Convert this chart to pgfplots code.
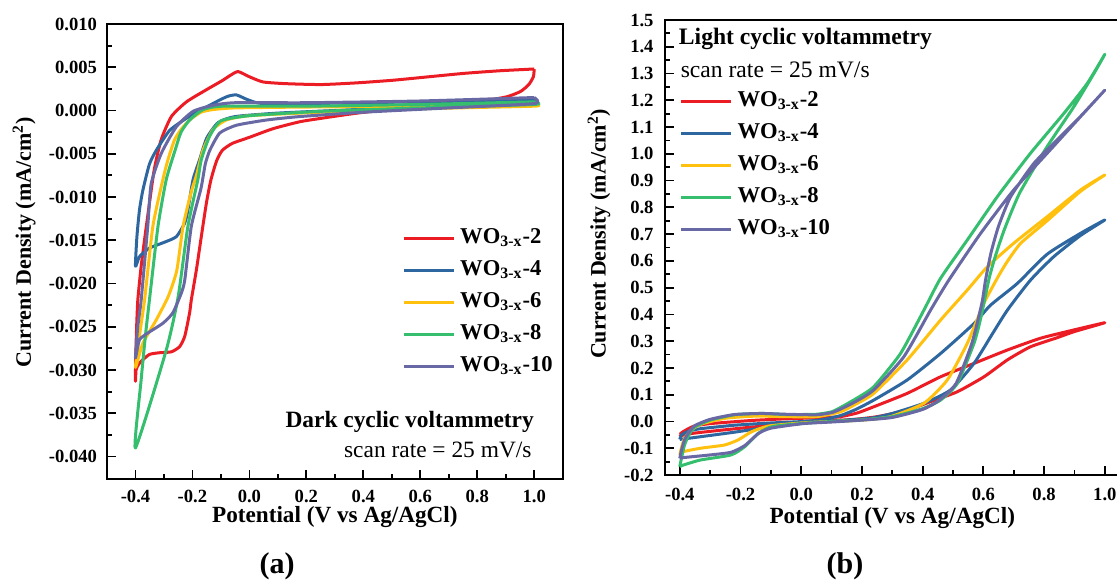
\documentclass[border=0pt]{standalone}
\usepackage{fontspec}
\setmainfont{Liberation Serif}
\usepackage{pgfplots}
\pgfplotsset{compat=1.18}

\definecolor{cred}{RGB}{236,28,36}
\definecolor{cblue}{RGB}{46,103,160}
\definecolor{cyel}{RGB}{255,193,14}
\definecolor{cgreen}{RGB}{52,190,110}
\definecolor{cpurp}{RGB}{104,104,164}

\pgfplotsset{
  cv/.style={
    scale only axis, height=227.5pt,
    axis line style={line width=1pt},
    tick align=inside, xtick pos=bottom, ytick pos=left,
    major tick length=4.5pt, minor tick length=2.5pt,
    tick style={black, line width=0.9pt},
    minor x tick num=1, minor y tick num=1,
    /pgf/number format/assume math mode=true,
    tick label style={font=\bfseries\fontsize{9.3}{10}\selectfont},
    xlabel style={font=\bfseries\fontsize{11.6}{13}\selectfont},
    ylabel style={font=\bfseries\fontsize{11}{13}\selectfont},
    every axis plot/.append style={line width=1.5pt, line join=round, smooth, tension=0.35},
    legend image code/.code={\draw[#1] (0pt,0pt) -- (25pt,0pt);},
    legend cell align=left,
    legend style={draw=none, fill=none, inner sep=0pt, row sep=1pt,
      font=\bfseries\fontsize{11.3}{13}\selectfont,
      nodes={inner xsep=2.5pt, inner ysep=1pt, text height=9pt, text depth=4pt}},
  }
}

\begin{document}
\begin{tikzpicture}
% ---------------- (a) dark ----------------
\begin{axis}[cv,
  at={(53.5pt,50.5pt)}, anchor=south west, width=227.85pt,
  xmin=-0.5, xmax=1.1, ymin=-0.0426, ymax=0.010,
  xtick={-0.4,-0.2,0,0.2,0.4,0.6,0.8,1.0},
  ytick={-0.040,-0.035,-0.030,-0.025,-0.020,-0.015,-0.010,-0.005,0,0.005,0.010},
  scaled y ticks=false,
  xticklabel style={yshift=-2pt, /pgf/number format/.cd, fixed, fixed zerofill, precision=1},
  yticklabel style={xshift=-1.5pt, /pgf/number format/.cd, fixed, fixed zerofill, precision=3},
  xlabel={Potential (V vs Ag/AgCl)},
  ylabel={Current Density (mA/cm\textsuperscript{2})},
  xlabel style={at={(axis description cs:0.5,-0.084)}, anchor=center},
  ylabel style={at={(axis description cs:-0.182,0.52)}, anchor=center},
  legend style={at={(axis description cs:0.647,0.388)}, anchor=west},
]
\addplot[cred] coordinates {(1.0,0.0048) (0.882,0.0046) (0.756,0.0043) (0.630,0.0039) (0.505,0.0035) (0.379,0.0032) (0.253,0.0030) (0.13,0.0031) (0.048,0.0033) (0.0,0.0039) (-0.04,0.0045) (-0.07,0.0040) (-0.093,0.0035) (-0.151,0.0024) (-0.221,0.0010) (-0.274,-0.0007) (-0.31,-0.0034) (-0.335,-0.0070) (-0.362,-0.0134) (-0.38,-0.0180) (-0.392,-0.0220) (-0.397,-0.0260) (-0.400,-0.0300) (-0.400,-0.0313) (-0.398,-0.0300) (-0.390,-0.0294) (-0.380,-0.0290) (-0.351,-0.0282) (-0.315,-0.0280) (-0.274,-0.0279) (-0.245,-0.0273) (-0.227,-0.0261) (-0.210,-0.0234) (-0.204,-0.0219) (-0.186,-0.0184) (-0.169,-0.0146) (-0.151,-0.0107) (-0.135,-0.0080) (-0.115,-0.0058) (-0.095,-0.0046) (-0.06,-0.0038) (0.0,-0.0031) (0.083,-0.0021) (0.177,-0.0013) (0.253,-0.0009) (0.379,-0.0003) (0.567,0.0004) (0.693,0.0008) (0.835,0.0012) (0.905,0.0016) (0.952,0.0022) (0.981,0.0030) (0.997,0.0039) (1.0,0.0048)};
\addlegendentry{WO\textsubscript{3-x}-2}
\addplot[cblue] coordinates {(1.0,0.0013) (0.8,0.0011) (0.6,0.0010) (0.4,0.0009) (0.2,0.0008) (0.06,0.0008) (0.025,0.0009) (-0.010,0.0013) (-0.045,0.0018) (-0.07,0.0017) (-0.093,0.0014) (-0.151,0.0004) (-0.221,-0.0009) (-0.28,-0.0023) (-0.327,-0.0046) (-0.351,-0.0062) (-0.374,-0.0092) (-0.386,-0.0115) (-0.395,-0.0146) (-0.400,-0.0180) (-0.386,-0.0169) (-0.351,-0.0159) (-0.304,-0.0153) (-0.257,-0.0146) (-0.227,-0.0130) (-0.216,-0.0115) (-0.198,-0.0080) (-0.175,-0.0057) (-0.15,-0.0032) (-0.11,-0.0014) (-0.05,-0.0007) (0.1,-0.0003) (0.3,0.0000) (0.5,0.0003) (0.75,0.0006) (1.0,0.0009) (1.0,0.0013)};
\addlegendentry{WO\textsubscript{3-x}-4}
\addplot[cyel] coordinates {(1.0,0.0007) (0.6,0.0005) (0.2,0.0004) (-0.05,0.0003) (-0.13,0.0001) (-0.17,-0.0002) (-0.21,-0.0011) (-0.24,-0.0022) (-0.263,-0.0034) (-0.286,-0.0057) (-0.304,-0.0080) (-0.339,-0.0134) (-0.368,-0.0219) (-0.386,-0.0260) (-0.400,-0.0297) (-0.374,-0.0269) (-0.327,-0.0242) (-0.285,-0.0215) (-0.255,-0.0185) (-0.233,-0.0134) (-0.205,-0.0095) (-0.186,-0.0075) (-0.163,-0.0046) (-0.128,-0.0022) (-0.081,-0.0011) (0.0,-0.0006) (0.25,-0.0002) (0.6,0.0002) (1.0,0.0005) (1.0,0.0007)};
\addlegendentry{WO\textsubscript{3-x}-6}
\addplot[cgreen] coordinates {(1.0,0.0010) (0.6,0.0007) (0.2,0.0005) (-0.093,0.0005) (-0.163,0.0001) (-0.21,-0.0011) (-0.24,-0.0025) (-0.26,-0.0045) (-0.292,-0.0080) (-0.321,-0.0134) (-0.351,-0.0219) (-0.365,-0.0260) (-0.380,-0.0311) (-0.400,-0.0390) (-0.292,-0.0277) (-0.250,-0.0215) (-0.216,-0.0134) (-0.181,-0.0080) (-0.169,-0.0057) (-0.14,-0.0030) (-0.10,-0.0012) (0.0,-0.0006) (0.25,-0.0001) (0.6,0.0003) (1.0,0.0007) (1.0,0.0010)};
\addlegendentry{WO\textsubscript{3-x}-8}
\addplot[cpurp] coordinates {(1.0,0.0015) (0.6,0.0011) (0.2,0.0009) (-0.05,0.0009) (-0.128,0.0006) (-0.198,-0.0001) (-0.257,-0.0019) (-0.31,-0.0050) (-0.345,-0.0085) (-0.357,-0.0134) (-0.380,-0.0219) (-0.392,-0.0250) (-0.400,-0.0286) (-0.386,-0.0265) (-0.351,-0.0256) (-0.304,-0.0246) (-0.269,-0.0234) (-0.239,-0.0211) (-0.227,-0.0196) (-0.204,-0.0134) (-0.17,-0.0090) (-0.155,-0.0062) (-0.139,-0.0046) (-0.104,-0.0026) (-0.045,-0.0017) (0.06,-0.0011) (0.177,-0.0007) (0.4,-0.0002) (0.7,0.0003) (1.0,0.0008) (1.0,0.0015)};
\addlegendentry{WO\textsubscript{3-x}-10}
\node[anchor=east, font=\bfseries\fontsize{11.7}{13}\selectfont] at (axis description cs:0.952,0.126) {Dark cyclic voltammetry};
\node[anchor=east, font=\fontsize{11.7}{13}\selectfont] at (axis description cs:0.947,0.064) {scan rate = 25 mV/s};
\end{axis}
% ---------------- (b) light ----------------
\begin{axis}[cv,
  at={(332.3pt,52.5pt)}, anchor=south west, width=227.7pt,
  xmin=-0.45, xmax=1.05, ymin=-0.2, ymax=1.5,
  xtick={-0.4,-0.2,0,0.2,0.4,0.6,0.8,1.0},
  ytick={-0.2,-0.1,0,0.1,0.2,0.3,0.4,0.5,0.6,0.7,0.8,0.9,1.0,1.1,1.2,1.3,1.4,1.5},
  xticklabel style={yshift=-3pt, /pgf/number format/.cd, fixed, fixed zerofill, precision=1},
  yticklabel style={xshift=-2pt, /pgf/number format/.cd, fixed, fixed zerofill, precision=1},
  xlabel={Potential (V vs Ag/AgCl)},
  ylabel={Current Density (mA/cm\textsuperscript{2})},
  xlabel style={at={(axis description cs:0.5,-0.095)}, anchor=center},
  ylabel style={at={(axis description cs:-0.144,0.53)}, anchor=center},
  legend style={at={(axis description cs:0.032,0.681)}, anchor=west},
]
\addplot[cred] coordinates {(-0.400,-0.048) (-0.389,-0.038) (-0.355,-0.018) (-0.30,-0.008) (-0.16,0.004) (-0.05,0.010) (0.06,0.014) (0.129,0.018) (0.185,0.032) (0.239,0.055) (0.349,0.105) (0.459,0.167) (0.569,0.217) (0.679,0.267) (0.788,0.311) (0.898,0.342) (1.0,0.369) (0.9,0.336) (0.843,0.313) (0.755,0.279) (0.679,0.230) (0.602,0.167) (0.514,0.111) (0.426,0.074) (0.349,0.042) (0.25,0.018) (0.175,0.008) (0.06,0.0) (-0.05,-0.009) (-0.163,-0.021) (-0.276,-0.034) (-0.355,-0.044) (-0.394,-0.052) (-0.400,-0.048)};
\addlegendentry{WO\textsubscript{3-x}-2}
\addplot[cblue] coordinates {(-0.400,-0.067) (-0.394,-0.050) (-0.37,-0.036) (-0.332,-0.027) (-0.22,-0.014) (-0.107,-0.006) (0.006,0.0) (0.07,0.007) (0.129,0.022) (0.18,0.045) (0.239,0.080) (0.349,0.155) (0.459,0.254) (0.569,0.366) (0.624,0.435) (0.712,0.516) (0.81,0.625) (0.92,0.703) (1.0,0.753) (0.92,0.695) (0.832,0.616) (0.755,0.528) (0.679,0.416) (0.624,0.317) (0.569,0.217) (0.492,0.118) (0.404,0.068) (0.30,0.030) (0.232,0.013) (0.119,0.003) (0.006,-0.006) (-0.107,-0.021) (-0.22,-0.040) (-0.332,-0.057) (-0.400,-0.067)};
\addlegendentry{WO\textsubscript{3-x}-4}
\addplot[cyel] coordinates {(-0.400,-0.125) (-0.395,-0.100) (-0.385,-0.065) (-0.365,-0.035) (-0.33,-0.010) (-0.25,0.012) (-0.15,0.020) (-0.05,0.018) (0.05,0.018) (0.129,0.036) (0.18,0.065) (0.239,0.105) (0.349,0.230) (0.459,0.379) (0.547,0.491) (0.613,0.578) (0.70,0.666) (0.81,0.765) (0.92,0.865) (1.0,0.921) (0.92,0.860) (0.81,0.750) (0.723,0.666) (0.68,0.600) (0.648,0.540) (0.602,0.442) (0.547,0.292) (0.481,0.155) (0.404,0.068) (0.294,0.018) (0.2,0.005) (0.1,0.0) (0.006,-0.005) (-0.107,-0.017) (-0.163,-0.038) (-0.208,-0.069) (-0.253,-0.088) (-0.332,-0.100) (-0.389,-0.113) (-0.400,-0.125)};
\addlegendentry{WO\textsubscript{3-x}-6}
\addplot[cgreen] coordinates {(-0.400,-0.169) (-0.395,-0.140) (-0.385,-0.090) (-0.37,-0.050) (-0.35,-0.020) (-0.30,0.005) (-0.22,0.025) (-0.13,0.030) (-0.05,0.026) (0.05,0.027) (0.10,0.036) (0.129,0.052) (0.18,0.085) (0.239,0.130) (0.327,0.254) (0.404,0.416) (0.459,0.535) (0.547,0.678) (0.646,0.840) (0.755,1.002) (0.865,1.151) (0.942,1.263) (1.0,1.372) (0.964,1.300) (0.898,1.176) (0.81,1.027) (0.72,0.855) (0.67,0.720) (0.64,0.620) (0.620,0.540) (0.605,0.460) (0.590,0.380) (0.569,0.292) (0.514,0.142) (0.459,0.080) (0.40,0.048) (0.30,0.018) (0.2,0.006) (0.1,0.0) (0.006,-0.007) (-0.095,-0.019) (-0.141,-0.044) (-0.186,-0.094) (-0.231,-0.125) (-0.332,-0.144) (-0.389,-0.163) (-0.400,-0.169)};
\addlegendentry{WO\textsubscript{3-x}-8}
\addplot[cpurp] coordinates {(-0.400,-0.138) (-0.395,-0.110) (-0.385,-0.070) (-0.37,-0.040) (-0.35,-0.015) (-0.30,0.008) (-0.22,0.026) (-0.13,0.030) (-0.05,0.027) (0.05,0.025) (0.10,0.033) (0.129,0.046) (0.18,0.075) (0.239,0.118) (0.338,0.242) (0.426,0.416) (0.486,0.528) (0.591,0.703) (0.70,0.865) (0.81,1.002) (0.92,1.139) (1.0,1.238) (0.92,1.140) (0.843,1.052) (0.766,0.964) (0.69,0.840) (0.650,0.730) (0.625,0.630) (0.607,0.528) (0.595,0.442) (0.562,0.292) (0.51,0.142) (0.455,0.080) (0.40,0.045) (0.30,0.015) (0.2,0.005) (0.1,-0.002) (0.006,-0.008) (-0.10,-0.025) (-0.141,-0.045) (-0.186,-0.090) (-0.231,-0.115) (-0.30,-0.125) (-0.389,-0.135) (-0.400,-0.138)};
\addlegendentry{WO\textsubscript{3-x}-10}
\node[anchor=west, font=\bfseries\fontsize{11.8}{13}\selectfont] at (axis description cs:0.016,0.958) {Light cyclic voltammetry};
\node[anchor=west, font=\fontsize{11.8}{13}\selectfont] at (axis description cs:0.020,0.890) {scan rate = 25 mV/s};
\end{axis}
\node[font=\bfseries\fontsize{15}{17}\selectfont] at (138.5pt,6.8pt) {(a)};
\node[font=\bfseries\fontsize{15}{17}\selectfont] at (422.5pt,6.8pt) {(b)};
\pgfresetboundingbox
\useasboundingbox (0,0) rectangle (558.5pt,290pt);
\end{tikzpicture}
\end{document}
